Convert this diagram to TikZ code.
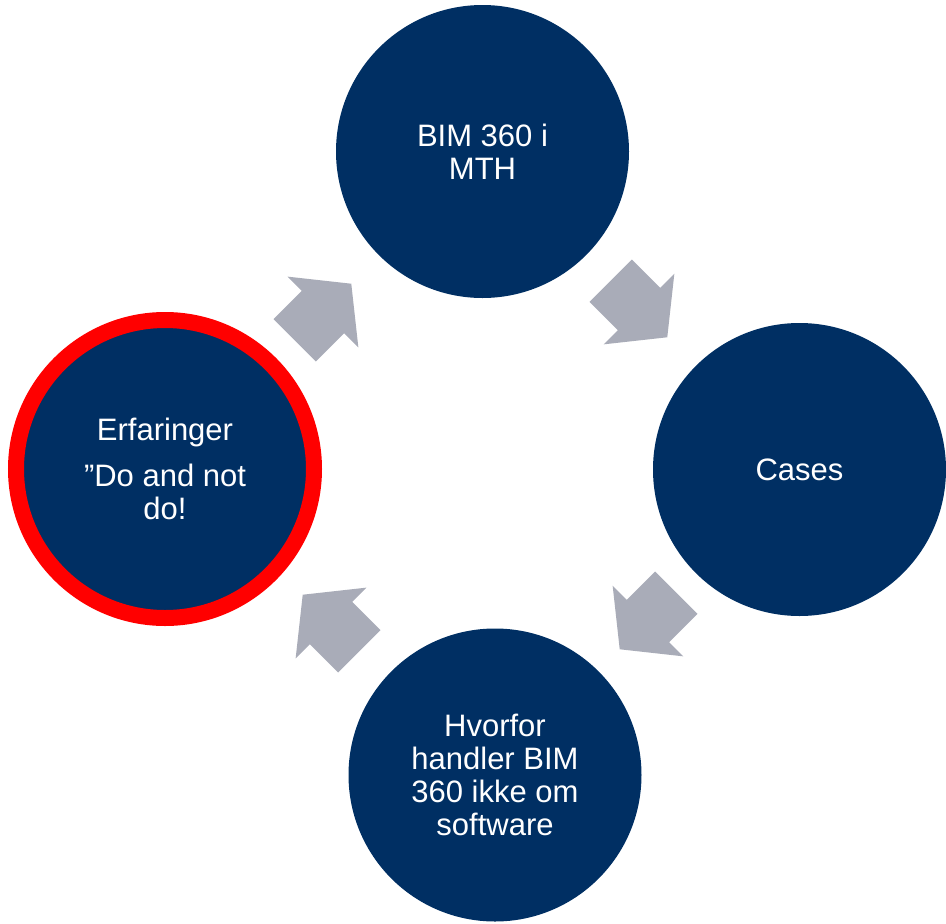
\documentclass[tikz,border=0pt]{standalone}
\usepackage{fontspec}
\setmainfont{Liberation Sans}
\definecolor{navy}{RGB}{0,47,99}
\definecolor{arrowgray}{RGB}{169,172,184}
\definecolor{ringred}{RGB}{255,0,0}
\tikzset{
  bubble/.style={circle, fill=navy, inner sep=0pt, minimum size=293pt, text=white, align=center,
    font=\fontsize{31}{33}\selectfont},
  ringbubble/.style={bubble, draw=ringred, line width=16pt, minimum size=298pt},
  blockarrow/.style={fill=arrowgray}
}
\begin{document}
\begin{tikzpicture}[x=1pt,y=-1pt]
\useasboundingbox (0,0) rectangle (946,924);
\node[bubble] (top) at (482.5,151.5) {BIM 360 i\\MTH};
\node[bubble] (right) at (799.5,469.5) {Cases};
\node[bubble] (bottom) at (495,775) {Hvorfor\\handler BIM\\360 ikke om\\software};
\node[ringbubble] (left) at (165,469) {Erfaringer\\[13pt]”Do and not\\do!};
\foreach \px/\py/\a in {323/312/45, 639/309/-45, 648/621/-135, 331/623/135}{
  \begin{scope}[shift={(\px,\py)}, rotate=\a]
    \fill[blockarrow] (-40,-30) -- (0,-30) -- (0,-50) -- (40,0) -- (0,50) -- (0,30) -- (-40,30) -- cycle;
  \end{scope}
}
\end{tikzpicture}
\end{document}
